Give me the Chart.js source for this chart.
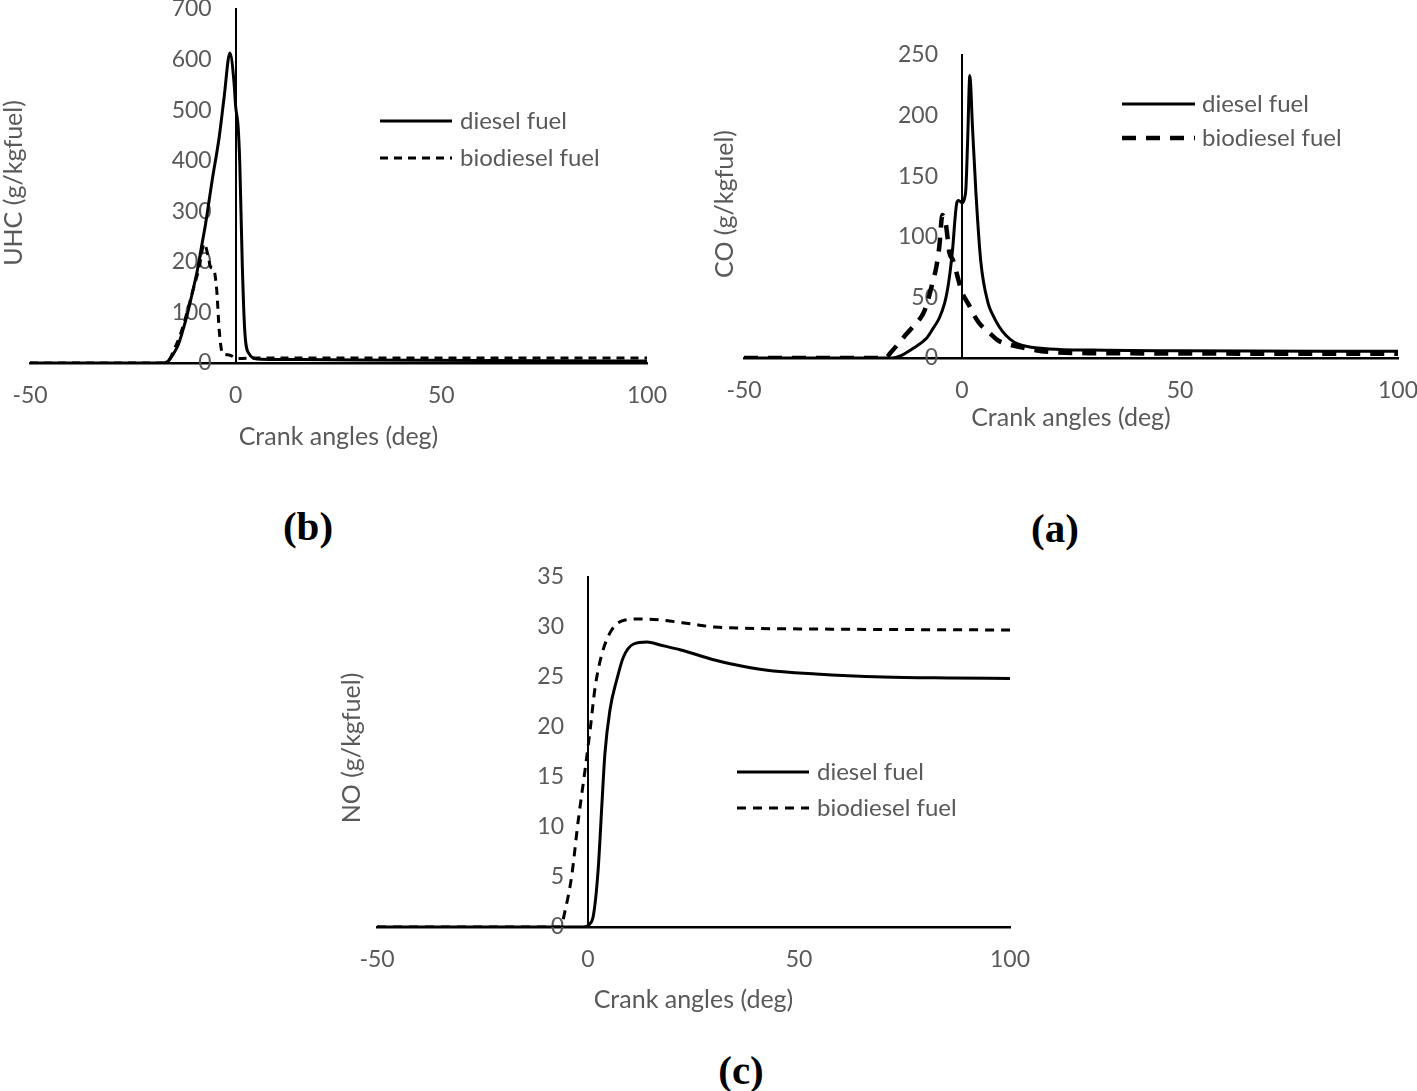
<!DOCTYPE html>
<html>
<head>
<meta charset="utf-8">
<script src="https://cdn.jsdelivr.net/npm/chart.js@4"></script>
<style>
  body { margin: 0; background: #fff; width: 1417px; height: 1091px; position: relative; overflow: hidden; }
  .panel { position: absolute; }
  .cap { position: absolute; font: bold 41px "Liberation Serif", "Times New Roman", serif; color: #000; transform: translate(-50%, -50%); }
</style>
</head>
<body>
<div class="panel" style="left:0;top:0"><canvas id="uhc" width="690" height="452"></canvas></div>
<div class="panel" style="left:700px;top:0"><canvas id="co" width="740" height="433"></canvas></div>
<div class="panel" style="left:330px;top:560px"><canvas id="no" width="720" height="455"></canvas></div>
<div class="cap" style="left:308px;top:526px">(b)</div>
<div class="cap" style="left:1055px;top:528px">(a)</div>
<div class="cap" style="left:741px;top:1070px">(c)</div>

<script>
// crank angle axis, shared by all three panels
const xTicks = [-50, 0, 50, 100];
const seriesNames = ['diesel fuel', 'biodiesel fuel'];

// (b) UHC
const uhcDieselX = [-50, -17.5, -16.5, -15, -14, -13, -11.7, -10.5, -9.3, -8.3, -7.3, -5.7, -4, -2.8, -1.4, -0.4, 0, 0.6, 1.0, 1.6, 2.2, 3.2, 5.3, 10, 30, 60, 100];
const uhcDieselY = [0, 0, 3, 20, 35, 60, 98, 140, 184, 230, 276, 362, 447, 526, 613, 555, 507, 467, 395, 197, 65, 19, 8, 7, 6, 5, 4];
const uhcBioX = [-50, -17.5, -16, -15, -13.5, -12, -10.5, -9, -7.6, -6.8, -6.1, -5.3, -4.6, -4, -3.2, -1.6, 0.4, 5, 20, 50, 100];
const uhcBioY = [0, 0, 8, 26, 55, 95, 140, 185, 236, 215, 190, 184, 144, 65, 19, 16, 9, 10, 10, 10, 10];

// (a) CO
const coDieselX = [-50, -16, -14, -11.2, -8.2, -6.7, -5.2, -4, -3.3, -2.6, -2.1, -1.6, -1.2, -0.8, 0.1, 0.6, 0.9, 1.3, 1.8, 2.4, 3.2, 4.3, 6, 7, 8.5, 10, 12, 15, 20, 30, 50, 100];
const coDieselY = [0, 0, 2, 8, 16, 24, 33, 45, 57, 75, 92, 115, 128, 130, 128, 132, 140, 180, 233, 191, 136, 80, 45, 36, 26, 19, 13, 9.5, 7.5, 6.5, 6, 5.5];
const coBioX = [-50, -17.7, -16, -14.3, -12.7, -11.2, -9, -8.2, -6.7, -5.9, -5.2, -4.5, -4.0, -3.6, -2.9, -2.1, -1.0, -0.2, 0.9, 1.7, 2.5, 3.9, 6.2, 8.5, 10, 16, 20, 30, 100];
const coBioY = [0, 0, 6, 13, 20, 26, 36, 43, 63, 75, 92, 118, 115, 108, 87, 81, 67, 56, 48, 43, 37, 29, 21, 14, 12, 7, 5, 4, 3.5];

// (c) NO
const noDieselX = [-50, -1.1, 0.4, 1.3, 2.4, 3.3, 4.0, 5.2, 6.8, 8.4, 10.8, 14, 17.1, 22, 26, 30, 34, 42, 54, 70, 86, 100];
const noDieselY = [0, 0, 0.3, 1.2, 5.7, 12.3, 17.3, 21.7, 24.7, 27, 28.3, 28.5, 28.2, 27.7, 27.2, 26.7, 26.3, 25.7, 25.3, 25.0, 24.9, 24.85];
const noBioX = [-50, -6.5, -5.4, -3.9, -2.3, -0.7, 0.5, 1.7, 3.3, 5.6, 8.8, 12.4, 17.1, 24.6, 30, 54, 100];
const noBioY = [0, 0, 1.7, 5, 10.7, 15.7, 19.7, 24, 27.3, 29.7, 30.7, 30.8, 30.7, 30.3, 30.0, 29.8, 29.7];

const GREY = '#595959';
const FONT = 'Lato, "Open Sans", sans-serif';
const TEXT_SIZE = 25;
const TICK_SIZE = 23;

function pts(xs, ys) {
  return xs.map((x, i) => ({ x: x, y: ys[i] }));
}

// y tick labels sit left of the zero-angle axis, y title and legend are drawn by hand
const panelDecor = {
  id: 'panelDecor',
  beforeDatasetsDraw(chart, args, opts) {
    const ctx = chart.ctx;
    const xs = chart.scales.x, ys = chart.scales.y;
    const axisX = xs.getPixelForValue(0);
    ctx.save();
    ctx.fillStyle = GREY;
    ctx.font = TICK_SIZE + 'px ' + FONT;
    ctx.textAlign = 'right';
    ctx.textBaseline = 'middle';
    ys.ticks.forEach(t => ctx.fillText(String(t.value), axisX - 24, ys.getPixelForValue(t.value)));
    ctx.font = TEXT_SIZE + 'px ' + FONT;
    ctx.translate(opts.titleX, opts.titleY);
    ctx.rotate(-Math.PI / 2);
    ctx.textAlign = 'center';
    ctx.fillText(opts.yTitle, 0, 0);
    ctx.restore();
  },
  afterDraw(chart, args, opts) {
    const ctx = chart.ctx;
    const lg = opts.legend;
    ctx.save();
    chart.data.datasets.forEach((ds, i) => {
      const y = lg.y[i];
      ctx.strokeStyle = '#000';
      ctx.lineWidth = ds.borderWidth;
      ctx.setLineDash(ds.borderDash || []);
      ctx.beginPath();
      ctx.moveTo(lg.x1, y);
      ctx.lineTo(lg.x2, y);
      ctx.stroke();
      ctx.setLineDash([]);
      ctx.fillStyle = GREY;
      ctx.font = (TEXT_SIZE - 1) + 'px ' + FONT;
      ctx.textAlign = 'left';
      ctx.textBaseline = 'middle';
      ctx.fillText(ds.label, lg.tx, y);
    });
    ctx.restore();
  }
};

function makePanel(id, p) {
  new Chart(document.getElementById(id), {
    type: 'line',
    data: {
      datasets: [
        { label: seriesNames[0], data: pts(p.dx, p.dy), borderColor: '#000', borderWidth: 3, pointRadius: 0, cubicInterpolationMode: 'monotone' },
        { label: seriesNames[1], data: pts(p.bx, p.by), borderColor: '#000', borderWidth: p.dashWidth, borderDash: p.dash, pointRadius: 0, cubicInterpolationMode: 'monotone' }
      ]
    },
    options: {
      responsive: false,
      animation: false,
      devicePixelRatio: 1,
      layout: { padding: p.pad },
      plugins: {
        legend: { display: false },
        tooltip: { enabled: false },
        panelDecor: { yTitle: p.yTitle, titleX: p.titleX, titleY: p.titleY, legend: p.legend }
      },
      scales: {
        x: {
          type: 'linear',
          min: -50, max: 100,
          afterBuildTicks: s => { s.ticks = xTicks.map(v => ({ value: v })); },
          afterFit: s => { s.height = p.axisH; },
          grid: { display: false },
          border: { color: '#000', width: 2.5 },
          ticks: { color: GREY, font: { family: FONT, size: TICK_SIZE }, padding: 11, maxRotation: 0 },
          title: { display: true, text: 'Crank angles (deg)', color: GREY, font: { family: FONT, size: TEXT_SIZE }, padding: 0 }
        },
        y: {
          min: 0, max: p.yMax,
          position: { x: 0 },
          afterBuildTicks: s => { s.ticks = p.yTicks.map(v => ({ value: v })); },
          grid: { display: false },
          border: { color: '#000', width: 2 },
          ticks: { display: false }
        }
      }
    },
    plugins: [panelDecor]
  });
}

makePanel('uhc', {
  dx: uhcDieselX, dy: uhcDieselY, bx: uhcBioX, by: uhcBioY,
  yMax: 700, yTicks: [0, 100, 200, 300, 400, 500, 600, 700],
  yTitle: 'UHC (g/kgfuel)', titleX: 14, titleY: 183,
  pad: { left: 30, top: 9, right: 43, bottom: 0 }, axisH: 89,
  dash: [8, 6], dashWidth: 3,
  legend: { x1: 380, x2: 452, tx: 460, y: [121, 158] }
});

makePanel('co', {
  dx: coDieselX, dy: coDieselY, bx: coBioX, by: coBioY,
  yMax: 250, yTicks: [0, 50, 100, 150, 200, 250],
  yTitle: 'CO (g/kgfuel)', titleX: 25, titleY: 204,
  pad: { left: 44, top: 55, right: 42, bottom: 0 }, axisH: 75,
  dash: [14, 10], dashWidth: 4.5,
  legend: { x1: 422, x2: 495, tx: 502, y: [104, 138] }
});

makePanel('no', {
  dx: noDieselX, dy: noDieselY, bx: noBioX, by: noBioY,
  yMax: 35, yTicks: [0, 5, 10, 15, 20, 25, 30, 35],
  yTitle: 'NO (g/kgfuel)', titleX: 22, titleY: 188,
  pad: { left: 47, top: 17, right: 40, bottom: 0 }, axisH: 88,
  dash: [9, 7], dashWidth: 3,
  legend: { x1: 407, x2: 479, tx: 487, y: [212, 248] }
});
</script>
</body>
</html>
